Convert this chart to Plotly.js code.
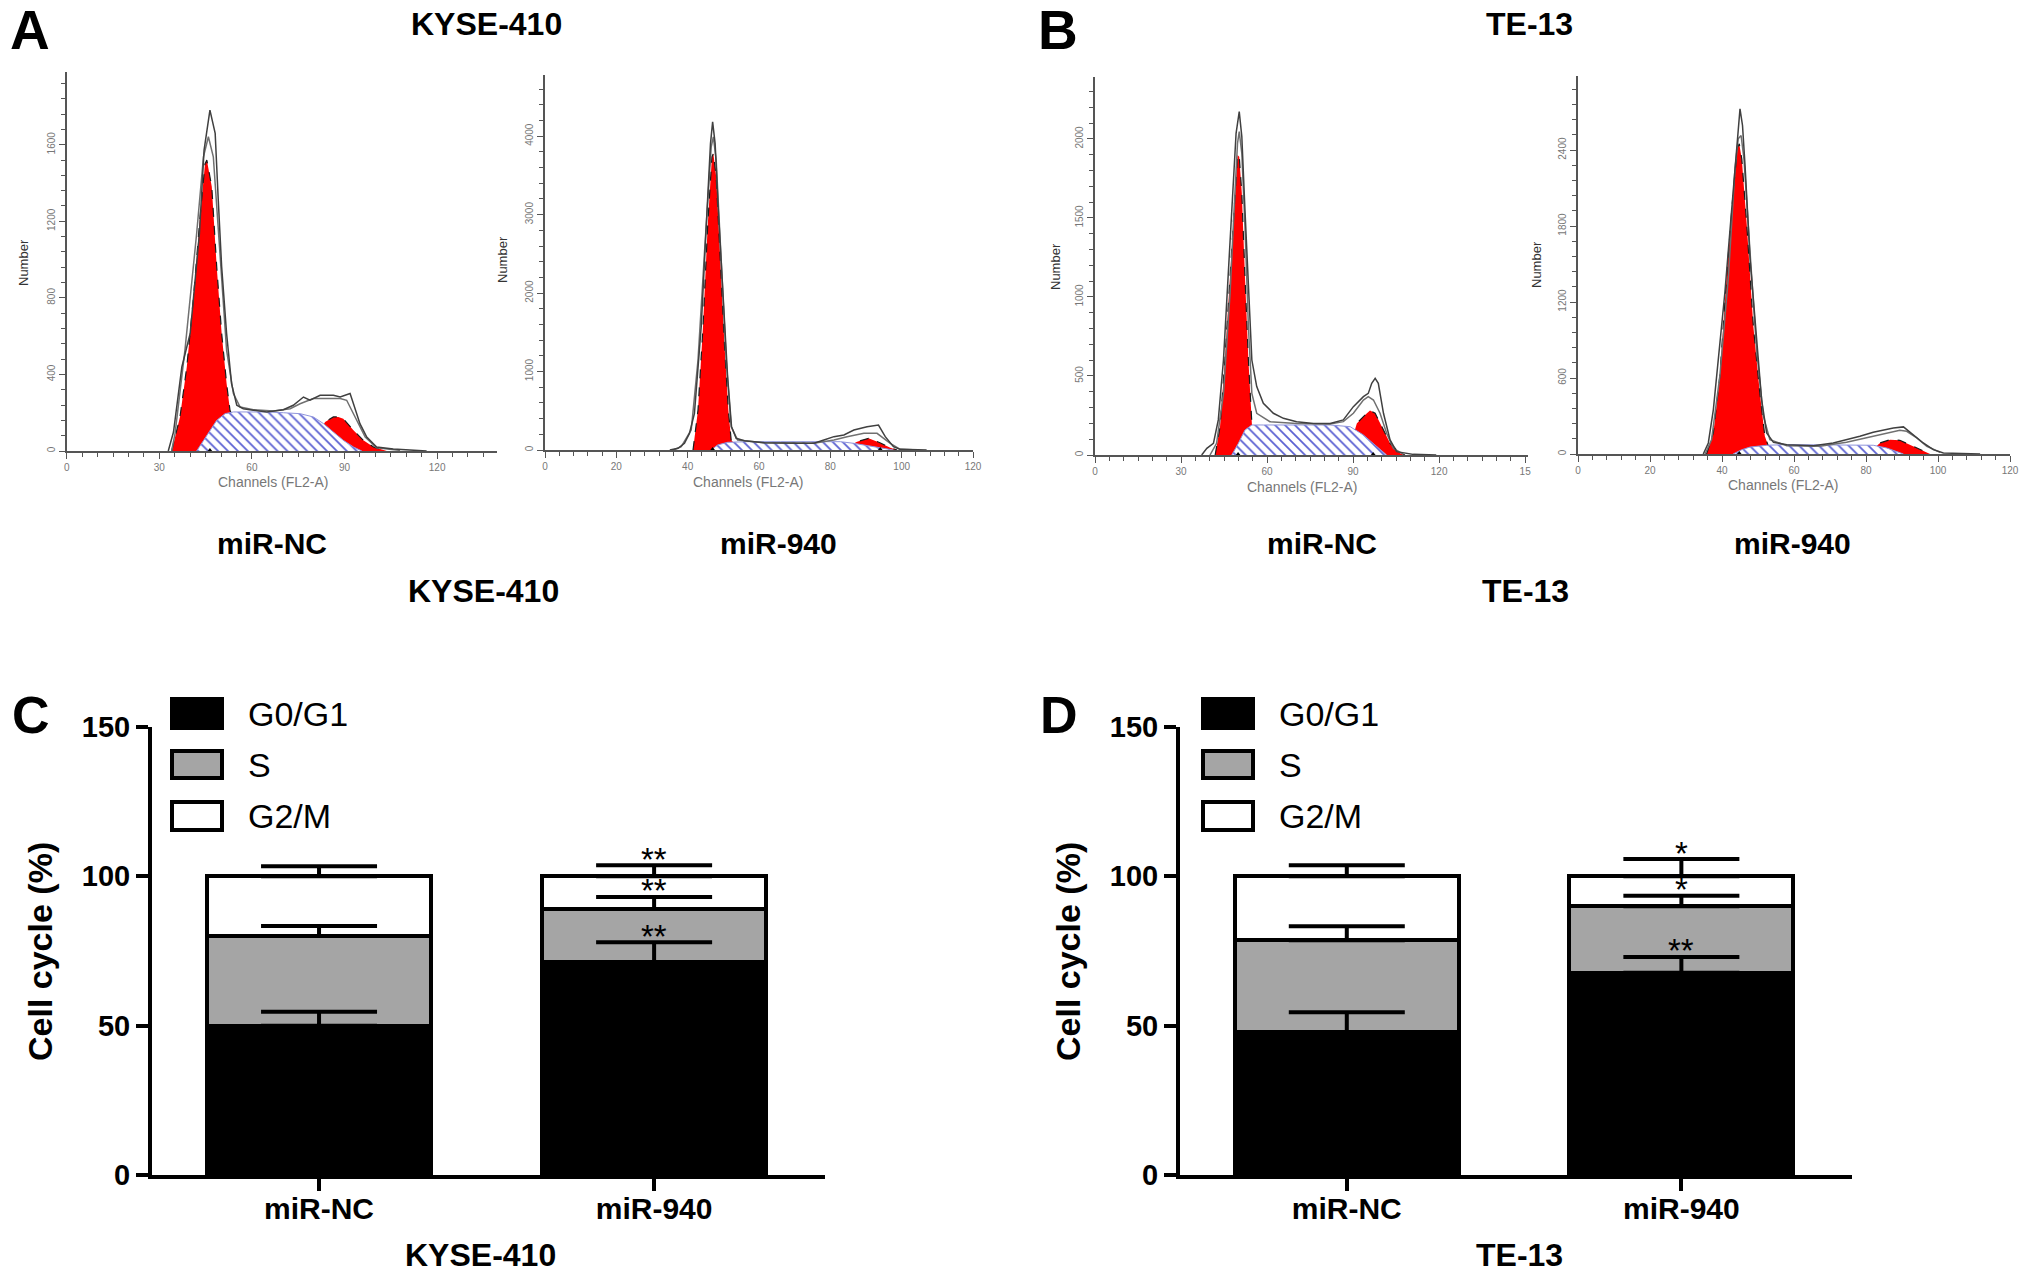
<!DOCTYPE html>
<html>
<head>
<meta charset="utf-8">
<script src="https://cdn.plot.ly/plotly-3.0.1.min.js"></script>
<style>
  html, body { margin: 0; padding: 0; background: #ffffff; }
  #fig { width: 2031px; height: 1279px; }
</style>
</head>
<body>
<div id="fig"></div>
<script>
/* Cell cycle figure: four DNA histograms (A, B) and two stacked bar charts (C, D) */
var W = 2031, H = 1279;
var FONT = 'Liberation Sans, Arial, sans-serif';

// ---- A left: KYSE-410 miR-NC (channel, count) ----
var kyseNcRaw1X = [32.9,34.6,37.3,40.0,43.0,44.5,46.4,48.1,49.1,50.2,51.8,53.4,55.1,57.2,60.5,64.8,70.2,73.4,76.7,78.8,82.1,86.4,88.6,91.8,92.9,95.0,97.2,100.4,105.8,116.6];
var kyseNcRaw1Y = [0,99,439,614,1136,1572,1781,1659,1311,962,614,352,239,221,213,204,216,239,282,265,291,291,282,300,247,143,73,21,10,0];
var kyseNcRaw2X = [34.0,35.1,38.3,42.1,44.3,45.9,47.5,48.8,50.2,51.8,54.0,56.2,60.5,67.0,72.4,75.6,79.9,84.2,88.6,90.7,93.9,96.7,100.4,108.0];
var kyseNcRaw2Y = [0,91,526,1136,1537,1642,1537,1224,875,526,300,230,216,209,221,247,274,274,274,265,160,73,17,3];
var kyseNcG1X = [34.0,36.7,38.9,41.0,43.2,44.8,45.4,47.0,48.6,50.2,51.8,52.9,54.5,56.5,58.5];
var kyseNcG1Y = [0,178,439,788,1224,1500,1520,1380,962,614,352,213,150,60,0];
var kyseNcG2X = [79.5,82.0,83.7,86.4,88.0,89.6,92.9,96.1,99.4,103.7];
var kyseNcG2Y = [0,100,152,178,178,169,108,56,21,0];
var kyseNcSX = [42.1,44.3,46.4,48.6,51.3,54.0,59.4,64.8,70.2,75.6,79.9,83.2,86.4,89.6,92.9,95.6];
var kyseNcSY = [0,56,108,160,195,204,204,204,200,195,178,143,99,56,21,0];
var kyseNcPeaks = [46.4];

// ---- A right: KYSE-410 miR-940 ----
var kyse940Raw1X = [35.0,37.3,39.1,40.5,41.9,43.8,45.2,46.4,47.0,47.7,48.6,49.8,51.2,52.3,53.6,55.9,61.5,70.8,75.4,78.2,81.0,83.8,86.6,90.3,93.5,95.4,97.7,99.6,107.0];
var kyse940Raw1Y = [0,21,85,212,467,1571,2845,3906,4182,3906,3057,1996,934,297,149,119,93,85,85,127,170,191,255,297,318,170,42,8,0];
var kyse940Raw2X = [36.0,38.2,41.0,42.9,44.7,46.6,47.2,48.0,49.4,50.8,52.2,54.0,61.5,75.4,81.0,84.7,89.4,93.1,96.8,99.6,105.0];
var kyse940Raw2Y = [0,42,255,1146,2505,3864,3991,3694,2420,1146,297,127,93,85,127,170,212,212,85,8,0];
var kyse940G1X = [41.5,42.9,44.3,45.6,46.8,47.2,48.0,48.9,50.3,51.4,52.2,53.5,55.0];
var kyse940G1Y = [0,510,1571,2845,3736,3779,3482,2633,1359,510,127,60,0];
var kyse940G2X = [84.0,86.0,87.5,90.7,93.9,96.8,98.7];
var kyse940G2Y = [0,70,106,149,93,30,0];
var kyse940SX = [46.6,48.4,51.2,56.8,66.1,75.4,82.8,86.6,92.1,97.7];
var kyse940SY = [0,64,98,106,106,106,106,85,42,0];
var kyse940Peaks = [47.0, 94.0];

// ---- B left: TE-13 miR-NC ----
var teNcRaw1X = [37.2,39.0,41.3,43.0,44.8,46.5,48.0,49.2,50.3,51.2,52.3,53.5,54.7,56.4,58.7,62.2,65.7,70.3,76.2,82.0,86.6,90.1,93.6,95.3,96.5,97.7,98.8,100.6,102.9,105.2,111.0,119.0];
var teNcRaw1Y = [0,42,74,222,601,1129,1656,2036,2173,2015,1551,1023,601,433,327,264,232,211,200,200,222,306,369,390,454,485,454,264,95,21,4,0];
var teNcRaw2X = [40.1,42.4,44.8,47.1,48.5,49.7,50.3,51.2,52.3,53.5,54.7,56.4,61.0,70.3,82.0,86.6,90.1,93.6,95.3,97.1,99.4,101.7,104.1,107.6];
var teNcRaw2Y = [0,74,390,1023,1551,1973,2046,1909,1445,812,390,264,211,200,196,211,264,348,369,348,264,137,42,4];
var teNcG1X = [41.9,43.6,45.3,47.1,48.8,49.7,50.3,51.2,52.3,53.5,54.7,56.0,57.5];
var teNcG1Y = [0,179,601,1129,1656,1899,1888,1656,1129,601,200,90,0];
var teNcG2X = [88.0,90.0,91.3,93.6,95.9,97.7,100.0,102.9,106.4,108.1];
var teNcG2Y = [0,120,200,243,281,264,179,74,11,0];
var teNcSX = [47.7,50.0,52.3,54.7,58.7,70.3,82.0,89.0,93.6,98.3,101.7];
var teNcSY = [0,74,158,190,190,190,190,179,127,53,0];
var teNcPeaks = [49.9, 97.0];

// ---- B right: TE-13 miR-940 ----
var te940Raw1X = [34.8,36.2,37.6,39.0,40.8,42.7,43.9,44.5,45.0,45.7,46.4,47.8,49.6,51.0,52.4,54.3,58.0,65.4,70.9,74.6,78.3,82.0,85.7,87.6,90.4,93.1,95.9,98.7,101.5,111.7];
var te940Raw1Y = [0,87,351,747,1275,1934,2330,2594,2726,2594,2278,1539,879,430,166,92,74,66,87,113,140,172,198,206,214,153,87,34,8,0];
var te940Raw2X = [35.3,37.1,39.4,41.8,43.6,44.5,45.3,46.1,47.8,49.6,51.5,53.3,58.0,67.2,74.6,80.2,85.7,89.4,91.3,94.1,96.9,100.6];
var te940Raw2Y = [0,113,615,1407,2251,2489,2515,2330,1591,826,298,113,66,61,92,127,166,187,179,127,61,13];
var te940G1X = [35.7,37.6,39.4,41.3,43.1,44.3,44.8,45.5,46.9,48.7,50.5,51.9,52.9,54.5,56.0];
var te940G1Y = [0,166,615,1407,2066,2423,2449,2330,1802,1011,483,140,61,20,0];
var te940G2X = [80.0,82.0,83.9,86.7,89.4,92.2,95.0,97.8];
var te940G2Y = [0,40,87,113,108,74,34,0];
var te940SX = [43.1,45.5,47.8,52.4,58.0,67.2,76.5,82.0,85.7,88.5,90.4];
var te940SY = [0,34,55,69,74,74,74,69,48,21,0];
var te940Peaks = [44.8];

// B left axis labels (the last one is cut off in the original)
var teNcTickVals = [0,30,60,90,120,150];
var teNcTickText = ['0','30','60','90','120','15'];

// ---- C / D: stacked cell cycle bars ----
var groups = ['miR-NC', 'miR-940'];
var phases = ['G0/G1', 'S', 'G2/M'];
var phaseColors = ['#000000', '#a5a5a5', '#ffffff'];

var kyseG0G1 = [50.0, 71.3];
var kyseS = [30.0, 17.8];
var kyseG2M = [20.0, 10.9];
var kyseG0G1Err = [4.7, 6.6];
var kyseSErr = [3.4, 4.0];
var kyseG2MErr = [3.4, 3.7];
var kyseSig = ['**', '**', '**'];   // miR-940 vs miR-NC, per phase

var teG0G1 = [47.9, 67.7];
var teS = [30.7, 22.3];
var teG2M = [21.4, 10.0];
var teG0G1Err = [6.6, 5.3];
var teSErr = [4.7, 3.5];
var teG2MErr = [3.7, 5.8];
var teSig = ['**', '*', '*'];

function px(x) { return x / W; }
function py(y) { return 1 - y / H; }

var traces = [];

function addHist(n, g1x, g1y, g2x, g2y, sx, sy, r2x, r2y, r1x, r1y, peaks) {
    var ax = 'x' + (n === 1 ? '' : n), ay = 'y' + (n === 1 ? '' : n);
    var base = {xaxis: ax, yaxis: ay, type: 'scatter', showlegend: false, hoverinfo: 'skip'};
    var red = {mode: 'lines', fill: 'tozeroy', fillcolor: '#ff0000',
               line: {color: '#1a1a1a', width: 1.2, dash: 'dash'}};
    traces.push(Object.assign({x: g1x, y: g1y}, base, red));
    traces.push(Object.assign({x: g2x, y: g2y}, base, red));
    traces.push(Object.assign({x: sx, y: sy, mode: 'lines', fill: 'tozeroy', fillcolor: '#ffffff',
        fillpattern: {shape: '\\', fgcolor: '#5a60d2', bgcolor: '#ffffff', size: 7, solidity: 0.25},
        line: {color: '#9095dc', width: 1}}, base));
    traces.push(Object.assign({x: r2x, y: r2y, mode: 'lines', line: {color: '#707070', width: 1.5}}, base));
    traces.push(Object.assign({x: r1x, y: r1y, mode: 'lines', line: {color: '#404040', width: 1.5}}, base));
    traces.push(Object.assign({x: peaks, y: peaks.map(function () { return 0; }), mode: 'markers',
        marker: {symbol: 'triangle-up', size: 6, color: '#000000'}, cliponaxis: false}, base));
}

addHist(1, kyseNcG1X, kyseNcG1Y, kyseNcG2X, kyseNcG2Y, kyseNcSX, kyseNcSY, kyseNcRaw2X, kyseNcRaw2Y, kyseNcRaw1X, kyseNcRaw1Y, kyseNcPeaks);
addHist(2, kyse940G1X, kyse940G1Y, kyse940G2X, kyse940G2Y, kyse940SX, kyse940SY, kyse940Raw2X, kyse940Raw2Y, kyse940Raw1X, kyse940Raw1Y, kyse940Peaks);
addHist(3, teNcG1X, teNcG1Y, teNcG2X, teNcG2Y, teNcSX, teNcSY, teNcRaw2X, teNcRaw2Y, teNcRaw1X, teNcRaw1Y, teNcPeaks);
addHist(4, te940G1X, te940G1Y, te940G2X, te940G2Y, te940SX, te940SY, te940Raw2X, te940Raw2Y, te940Raw1X, te940Raw1Y, te940Peaks);

var annotations = [];
var shapes = [];

function addBars(n, segs, errs, sig) {
    var ax = 'x' + n, ay = 'y' + n;
    var tops = [];
    for (var p = 0; p < segs.length; p++) {
        traces.push({type: 'bar', x: groups, y: segs[p], xaxis: ax, yaxis: ay, width: 0.67,
            marker: {color: phaseColors[p], line: {color: '#000000', width: 4}},
            name: phases[p], showlegend: false, hoverinfo: 'skip'});
        tops.push(segs[p].map(function (v, i) { return v + (p > 0 ? tops[p - 1][i] : 0); }));
    }
    // error bars on a separate layer so later segments do not hide them
    for (var q = 0; q < segs.length; q++) {
        traces.push({type: 'scatter', mode: 'markers', x: groups, y: tops[q], xaxis: ax, yaxis: ay,
            marker: {size: 1, color: 'rgba(0,0,0,0)'}, showlegend: false, hoverinfo: 'skip',
            error_y: {type: 'data', symmetric: false, array: errs[q], arrayminus: [0, 0],
                      color: '#000000', thickness: 4, width: 58}});
        annotations.push({xref: ax, yref: ay, x: groups[1], y: tops[q][1] + errs[q][1],
            text: sig[q], showarrow: false, yanchor: 'middle', yshift: 6,
            font: {family: FONT, size: 33, color: '#000000'}});
    }
}

addBars(5, [kyseG0G1, kyseS, kyseG2M], [kyseG0G1Err, kyseSErr, kyseG2MErr], kyseSig);
addBars(6, [teG0G1, teS, teG2M], [teG0G1Err, teSErr, teG2MErr], teSig);

function histX(x0, x1, anchor, range, dtick, minorStep) {
    return {domain: [px(x0), px(x1)], anchor: anchor, range: range, dtick: dtick, tick0: 0,
        showline: true, linecolor: '#555555', linewidth: 1.5, ticks: 'outside', ticklen: 6,
        tickwidth: 1.3, tickcolor: '#555555', showgrid: false, zeroline: false, fixedrange: true,
        minor: {tick0: 0, dtick: minorStep, ticks: 'outside', ticklen: 4, tickwidth: 1, tickcolor: '#555555'},
        tickfont: {family: FONT, size: 10, color: '#777777'}};
}
function histY(y0, y1, anchor, range, dtick, minorStep) {
    var a = histX(0, 0, anchor, range, dtick, minorStep);
    a.domain = [py(y0), py(y1)];
    a.tickangle = -90;
    return a;
}

var xTe = histX(1095, 1528, 'y3', [0, 151], 30, 5);
xTe.tickmode = 'array';
xTe.tickvals = teNcTickVals;
xTe.ticktext = teNcTickText;

function barX(x0, x1, anchor) {
    return {domain: [px(x0), px(x1)], anchor: anchor, type: 'category', range: [-0.4985, 1.51],
        showline: true, linecolor: '#000000', linewidth: 4, ticks: 'outside', ticklen: 12,
        tickwidth: 3.5, tickcolor: '#000000', showgrid: false, zeroline: false, fixedrange: true,
        ticklabelstandoff: -8,
        tickfont: {family: FONT, size: 30, weight: 'bold', color: '#000000'}};
}
function barY(anchor) {
    return {domain: [py(1175), py(727)], anchor: anchor, range: [0, 150], tickvals: [0, 50, 100, 150],
        showline: true, linecolor: '#000000', linewidth: 4, ticks: 'outside', ticklen: 12,
        tickwidth: 3.5, tickcolor: '#000000', showgrid: false, zeroline: false, fixedrange: true,
        tickfont: {family: FONT, size: 29, weight: 'bold', color: '#000000'}};
}

function label(x, y, text, size, opts) {
    var a = {xref: 'paper', yref: 'paper', x: px(x), y: py(y), text: text, showarrow: false,
             xanchor: 'center', yanchor: 'middle',
             font: {family: FONT, size: size, color: '#000000', weight: 'bold'}};
    return Object.assign(a, opts || {});
}

// panel letters and titles
annotations.push(label(30, 30, 'A', 55));
annotations.push(label(1058, 30, 'B', 55));
annotations.push(label(31, 715, 'C', 52));
annotations.push(label(1059, 715, 'D', 52));
annotations.push(label(486, 24, 'KYSE-410', 32));
annotations.push(label(1529, 24, 'TE-13', 32));
annotations.push(label(272, 543, 'miR-NC', 30));
annotations.push(label(778, 543, 'miR-940', 30));
annotations.push(label(1322, 543, 'miR-NC', 30));
annotations.push(label(1792, 543, 'miR-940', 30));
annotations.push(label(483, 591, 'KYSE-410', 32));
annotations.push(label(1525, 591, 'TE-13', 32));

// histogram axis titles
var numberPos = [[23, 263], [502, 260], [1055, 267], [1537, 265]];
var channelPos = [[273, 482], [748, 482], [1302, 487], [1783, 485]];
numberPos.forEach(function (p) {
    annotations.push(label(p[0], p[1], 'Number', 13, {textangle: -90,
        font: {family: FONT, size: 13, color: '#333333'}}));
});
channelPos.forEach(function (p) {
    annotations.push(label(p[0], p[1], 'Channels (FL2-A)', 14,
        {font: {family: FONT, size: 14, color: '#777777'}}));
});

// bar chart titles
annotations.push(label(40, 952, 'Cell cycle (%)', 34, {textangle: -90}));
annotations.push(label(1068, 952, 'Cell cycle (%)', 34, {textangle: -90}));
annotations.push(label(480, 1255, 'KYSE-410', 32));
annotations.push(label(1519, 1255, 'TE-13', 32));

// legends of C and D
var legendRows = [[699, 728], [751, 778], [802, 830]];
function addLegend(bx0, bx1, tx) {
    legendRows.forEach(function (r, i) {
        shapes.push({type: 'rect', xref: 'paper', yref: 'paper', x0: px(bx0), x1: px(bx1),
            y0: py(r[1]), y1: py(r[0]), fillcolor: phaseColors[i], line: {color: '#000000', width: 4}});
        annotations.push(label(tx, (r[0] + r[1]) / 2, phases[i], 34,
            {xanchor: 'left', font: {family: FONT, size: 34, color: '#000000'}}));
    });
}
addLegend(172, 222, 246);
addLegend(1203, 1253, 1277);

var layout = {
    width: W, height: H,
    margin: {l: 0, r: 0, t: 0, b: 0},
    paper_bgcolor: '#ffffff', plot_bgcolor: 'rgba(0,0,0,0)',
    showlegend: false,
    barmode: 'stack',
    xaxis: histX(66.7, 497, 'y', [0, 139.4], 30, 5),
    yaxis: histY(451, 72, 'x', [0, 1980], 400, 80),
    xaxis2: histX(545, 973, 'y2', [0, 120], 20, 4),
    yaxis2: histY(450, 75, 'x2', [0, 4780], 1000, 200),
    xaxis3: xTe,
    yaxis3: histY(455, 76.7, 'x3', [0, 2394], 500, 100),
    xaxis4: histX(1578, 2010, 'y4', [0, 120], 20, 4),
    yaxis4: histY(454, 76, 'x4', [0, 2985], 600, 120),
    xaxis5: barX(152, 825, 'y5'),
    yaxis5: barY('x5'),
    xaxis6: barX(1180, 1852, 'y6'),
    yaxis6: barY('x6'),
    annotations: annotations,
    shapes: shapes
};

Plotly.newPlot('fig', traces, layout, {displayModeBar: false, responsive: false});
</script>
</body>
</html>
